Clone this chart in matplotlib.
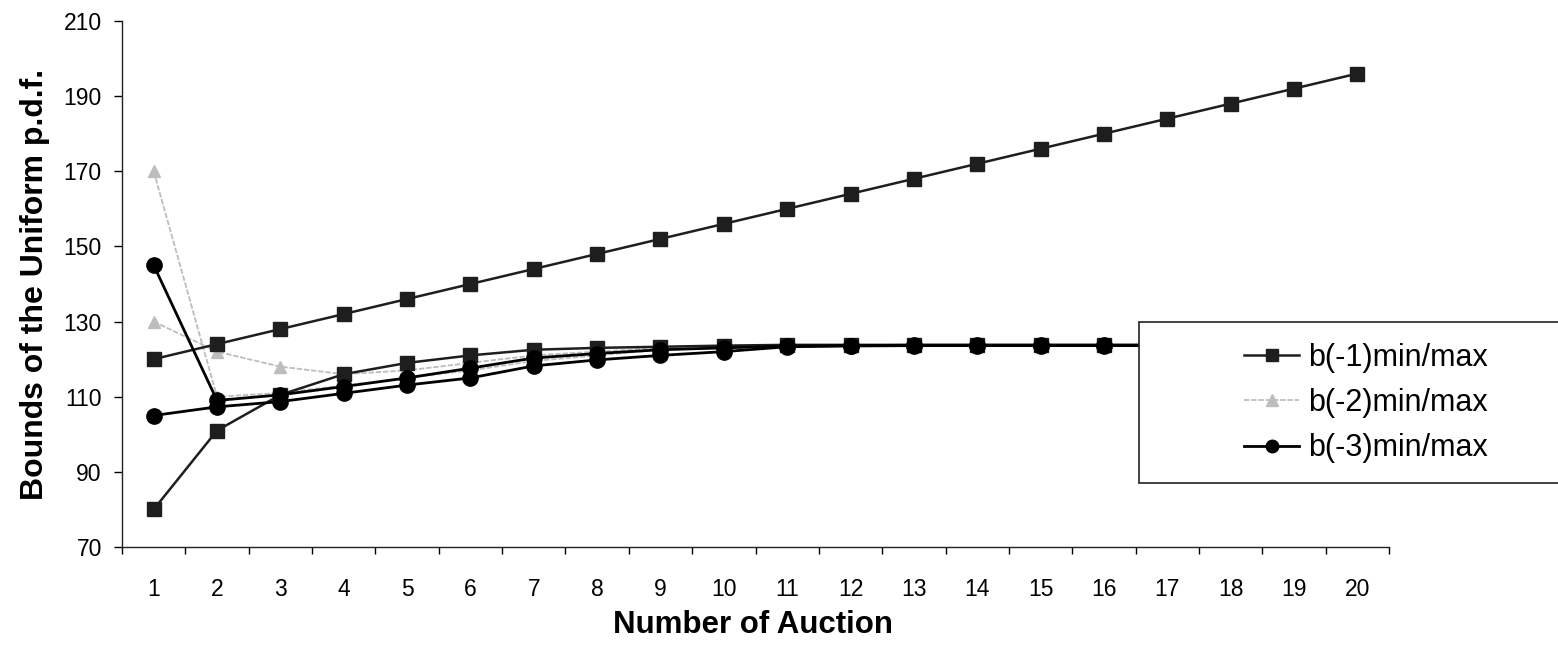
import matplotlib
matplotlib.use("Agg")
import matplotlib.pyplot as plt
from matplotlib.patches import Rectangle
from matplotlib.lines import Line2D

plt.rcParams['font.family'] = ['Liberation Sans', 'DejaVu Sans']

auctions = list(range(1, 21))
x_labels = [str(a) for a in auctions]

b1_max = [120, 124, 128, 132, 136, 140, 144, 148, 152, 156,
          160, 164, 168, 172, 176, 180, 184, 188, 192, 196]
b1_min = [80, 101, 110.5, 116, 119, 121, 122.5, 123, 123.3, 123.6,
          123.8, 123.8, 123.8, 123.8, 123.8, 123.8, 123.8, 123.8, 123.8, 123.8]
b2_max = [170, 110, 111, 113, 115, 117, 119.5, 121, 122.5, 123,
          123.5, 123.6, 123.7, 123.7, 123.7, 123.7, 123.7, 123.7, 123.7, 123.7]
b2_min = [130, 122, 118, 116, 117, 119, 121, 122, 123, 123.5,
          123.6, 123.7, 123.7, 123.7, 123.7, 123.7, 123.7, 123.7, 123.7, 123.7]
b3_max = [145, 109, 110.5, 112.7, 115, 117.6, 120.3, 121.5, 122.5, 123,
          123.5, 123.6, 123.7, 123.7, 123.7, 123.7, 123.7, 123.7, 123.7, 123.7]
b3_min = [105, 107.3, 108.7, 110.9, 113.1, 115, 118.2, 119.8, 121, 122,
          123.3, 123.5, 123.6, 123.6, 123.6, 123.6, 123.6, 123.6, 123.6, 123.6]

y_ticks = [70, 90, 110, 130, 150, 170, 190, 210]
legend_labels = ['b(-1)min/max', 'b(-2)min/max', 'b(-3)min/max']

W, H = 1558, 650
fig = plt.figure(figsize=(W / 100, H / 100), dpi=100)
ax_l, ax_r, ax_t, ax_b = 122, 1389, 21, 547
ax = fig.add_axes([ax_l / W, 1 - ax_b / H, (ax_r - ax_l) / W, (ax_b - ax_t) / H])

c1 = '#1e1e1e'
c2 = '#bdbdbd'
c3 = '#000000'

for ys in (b2_max, b2_min):
    ax.plot(auctions, ys, color=c2, lw=1.3, ls=(0, (3, 1)), marker='^',
            ms=9, mfc=c2, mec=c2, zorder=2)
for ys in (b1_max, b1_min):
    ax.plot(auctions, ys, color=c1, lw=1.8, marker='s', ms=9.5,
            mfc=c1, mec=c1, zorder=3)
for ys in (b3_max, b3_min):
    ax.plot(auctions, ys, color=c3, lw=2.0, marker='o', ms=11,
            mfc=c3, mec=c3, zorder=4)

ax.set_xlim(0.5, 20.5)
ax.set_ylim(70, 210)
ax.set_yticks(y_ticks)
ax.set_xticks(auctions)
ax.set_xticklabels(x_labels)
ax.set_xticks([a - 0.5 for a in auctions] + [20.5], minor=True)
ax.tick_params(axis='x', which='major', length=0, pad=22, labelsize=16.5)
ax.tick_params(axis='x', which='minor', length=5, width=1, direction='out')
ax.tick_params(axis='y', which='major', length=6, width=1, direction='out',
               pad=8.5, labelsize=16.5)

for s in ('top', 'right'):
    ax.spines[s].set_visible(False)
for s in ('left', 'bottom'):
    ax.spines[s].set_linewidth(1.0)
    ax.spines[s].set_color('#222222')

ax.set_xlabel('Number of Auction', fontsize=22.5, fontweight='bold')
ax.set_ylabel('Bounds of the Uniform p.d.f.', fontsize=23, fontweight='bold')
ax.xaxis.set_label_coords(0.498, (ax_b - 610) / (ax_b - ax_t))
ax.yaxis.set_label_coords((50 - ax_l) / (ax_r - ax_l), 0.5)

# legend frame extending beyond right edge
rect = Rectangle((1139 / W, 1 - 483 / H), (W - 1139 + 20) / W, (483 - 322) / H,
                 transform=fig.transFigure, facecolor='white',
                 edgecolor='#222222', lw=1.2, zorder=4, clip_on=False)
fig.patches.append(rect)

handles = [
    Line2D([], [], color=c1, lw=1.8, marker='s', ms=8.5, mfc=c1, mec=c1),
    Line2D([], [], color=c2, lw=1.3, ls=(0, (3, 1)), marker='^', ms=8, mfc=c2, mec=c2),
    Line2D([], [], color=c3, lw=2.0, marker='o', ms=9, mfc=c3, mec=c3),
]
fig.legend(handles, legend_labels, loc='center left',
           bbox_to_anchor=(1229 / W, 1 - 403 / H), frameon=False,
           fontsize=22, handlelength=1.8, handletextpad=0.3,
           labelspacing=0.5, borderpad=0)

fig.savefig('out.png', dpi=100)
